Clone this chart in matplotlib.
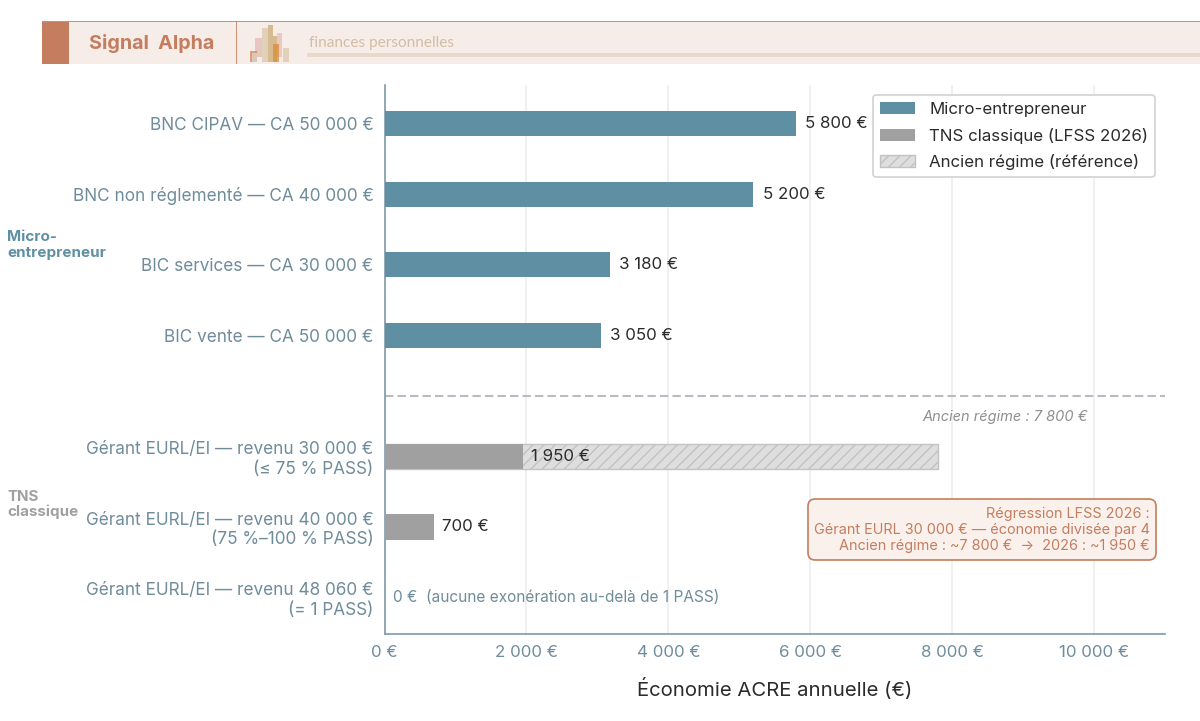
"""Economie ACRE annuelle: barres horizontales par statut."""

import matplotlib

matplotlib.use("Agg")
import matplotlib.pyplot as plt  # noqa: E402
from matplotlib.patches import FancyBboxPatch, Patch, Rectangle  # noqa: E402

plt.rcParams["font.family"] = ["Inter", "DejaVu Sans"]
plt.rcParams["hatch.linewidth"] = 1.0
plt.rcParams["hatch.color"] = "#c2c2c2"

MICRO = "#5e8fa3"
TNS = "#a0a0a0"
SLATE = "#6f8c9b"
ACCENT = "#c47d5e"
DARK = "#2b2b2b"

micro_labels = [
    "BNC CIPAV — CA 50 000 €",
    "BNC non réglementé — CA 40 000 €",
    "BIC services — CA 30 000 €",
    "BIC vente — CA 50 000 €",
]
micro_values = [5800, 5200, 3180, 3050]
micro_pos = [0, 1, 2, 3]

tns_labels = [
    "Gérant EURL/EI — revenu 30 000 €\n(≤ 75 % PASS)",
    "Gérant EURL/EI — revenu 40 000 €\n(75 %–100 % PASS)",
    "Gérant EURL/EI — revenu 48 060 €\n(= 1 PASS)",
]
tns_values = [1950, 700, 0]
tns_pos = [4.72, 5.72, 6.72]
ancien_value = 7800

xticks = [0, 2000, 4000, 6000, 8000, 10000]
xtick_labels = ["0 €", "2 000 €", "4 000 €", "6 000 €", "8 000 €", "10 000 €"]

# petit logo du bandeau: x, y, largeur, hauteur, couleur, alpha (pixels)
logo_rects = [
    (255, 38, 7, 19, "#d9a09a", 0.5),
    (262, 28, 6, 34, "#d8c6a8", 0.7),
    (268, 25, 5, 37, "#c9a66b", 0.7),
    (273, 36, 4, 26, "#c9a66b", 0.7),
    (277, 33, 5, 24, "#e3b0a8", 0.6),
    (273, 44, 6, 18, "#d98a2e", 0.7),
    (283, 48, 6, 14, "#d8c6a8", 0.7),
    (250, 51, 7, 11, "#d98a5e", 0.8),
    (252, 53, 5, 9, "#d8d0c0", 0.9),
]

W, H = 1200, 721


def add_px_rect(fig, x, y, w, h, **kw):
    # coordonnees en pixels, origine en haut a gauche
    fig.add_artist(Rectangle((x / W, 1 - (y + h) / H), w / W, h / H,
                             transform=fig.transFigure, **kw))


fig = plt.figure(figsize=(12, 7.21), dpi=100)

# bandeau
add_px_rect(fig, 42, 22, 1158, 42, facecolor="#f7ede8", edgecolor="none")
add_px_rect(fig, 42, 21, 1158, 1.2, facecolor="#d08f73", edgecolor="none")
add_px_rect(fig, 42, 22, 27, 42, facecolor="#c47d5e", edgecolor="none")
add_px_rect(fig, 236, 22, 1, 42, facecolor="#d08f73", edgecolor="none")
add_px_rect(fig, 307, 53, 893, 4, facecolor="#e8d9ca", edgecolor="none")
for x, y, w, h, color, alpha in logo_rects:
    add_px_rect(fig, x, y, w, h, facecolor=color, edgecolor="none", alpha=alpha)
fig.text(89 / W, 1 - 43.5 / H, "Signal  Alpha", color=ACCENT, fontsize=14.2,
         fontweight="bold", family=["Inter", "DejaVu Sans"], va="center")
fig.text(309 / W, 1 - 43 / H, "finances personnelles", color="#d3bda5", fontsize=11.1,
         family=["Lato", "DejaVu Sans"], va="center")

ax = fig.add_axes([384.5 / W, 1 - 634 / H, 780.5 / W, 549 / H])

ax.barh(micro_pos, micro_values, height=0.36, color=MICRO, zorder=3)
ax.barh(tns_pos[0], ancien_value, height=0.36, facecolor="#dedede", edgecolor="#c2c2c2",
        hatch="///", linewidth=1, zorder=2)
ax.barh(tns_pos, tns_values, height=0.36, color=TNS, zorder=3)

for pos, val in zip(micro_pos, micro_values):
    text = f"{val:,}".replace(",", " ") + " €"
    ax.text(val + 130, pos, text, va="center", ha="left", fontsize=12.2, color=DARK, zorder=5)
ax.text(tns_values[0] + 110, tns_pos[0], "1 950 €", va="center", ha="left", fontsize=12.2,
        color=DARK, zorder=5)
ax.text(tns_values[1] + 110, tns_pos[1], "700 €", va="center", ha="left", fontsize=12.2,
        color=DARK, zorder=5)
ax.text(115, tns_pos[2], "0 €  (aucune exonération au-delà de 1 PASS)", va="center", ha="left",
        fontsize=11.1, color=SLATE, zorder=5)
ax.text(9908, 4.16, "Ancien régime : 7 800 €", ha="right", va="center", fontsize=10.5,
        style="italic", color="#8f8f8f")

ax.axhline(3.87, color="#b8bcc2", linestyle=(0, (4, 2)), linewidth=1.5, zorder=1)

ax.set_xlim(0, 11000)
ax.set_ylim(7.24, -0.55)
ax.set_yticks(micro_pos + tns_pos)
ax.set_yticklabels(micro_labels + tns_labels, fontsize=12.35, color=SLATE, linespacing=1.2)
ax.set_xticks(xticks)
ax.set_xticklabels(xtick_labels, fontsize=12.2, color=SLATE)
ax.tick_params(axis="y", length=0, pad=8)
ax.tick_params(axis="x", length=0, pad=8)
ax.grid(axis="x", color="#eeeef0", linewidth=1.2, zorder=0)
ax.set_axisbelow(True)
ax.set_xlabel("Économie ACRE annuelle (€)", fontsize=14.6, color=DARK, labelpad=13)
for side in ("top", "right"):
    ax.spines[side].set_visible(False)
for side in ("left", "bottom"):
    ax.spines[side].set_color("#7f9aa8")
    ax.spines[side].set_linewidth(1.2)

handles = [
    Patch(facecolor=MICRO, label="Micro-entrepreneur"),
    Patch(facecolor=TNS, label="TNS classique (LFSS 2026)"),
    Patch(facecolor="#dedede", edgecolor="#c2c2c2", hatch="///", label="Ancien régime (référence)"),
]
leg = ax.legend(handles=handles, loc="upper right", bbox_to_anchor=(0.987, 0.982), fontsize=12.2,
                frameon=True, borderaxespad=0, labelspacing=0.64, handlelength=2.06,
                handletextpad=0.85, borderpad=0.4)
leg.get_frame().set_edgecolor("#cfd3d6")
leg.get_frame().set_linewidth(1.2)
leg.get_frame().set_alpha(1)
for text in leg.get_texts():
    text.set_color(DARK)

# encadre de regression
box_x, box_y, box_w, box_h = 808, 499, 348, 61
fig.add_artist(FancyBboxPatch((box_x / W, 1 - (box_y + box_h) / H), box_w / W, box_h / H,
                              boxstyle="round,pad=0,rounding_size=0.006", mutation_aspect=W / H,
                              transform=fig.transFigure, facecolor="#fbf1ec", edgecolor=ACCENT,
                              linewidth=1.2, zorder=6))
fig.text(1150 / W, 1 - 530 / H,
         "Régression LFSS 2026 :\nGérant EURL 30 000 € — économie divisée par 4\n"
         "Ancien régime : ~7 800 €  →  2026 : ~1 950 €",
         ha="right", va="center", ma="right", fontsize=10.4, color=ACCENT, linespacing=1.22, zorder=7)

# etiquettes de groupe
fig.text(7 / W, 1 - 245 / H, "Micro-\nentrepreneur", fontsize=10.9, fontweight="bold", color=MICRO,
         va="center", ha="left", linespacing=1.1)
fig.text(7 / W, 1 - 504.5 / H, "TNS\nclassique", fontsize=10.9, fontweight="bold", color=TNS,
         va="center", ha="left", linespacing=1.1)

fig.savefig("out.png", dpi=100)
